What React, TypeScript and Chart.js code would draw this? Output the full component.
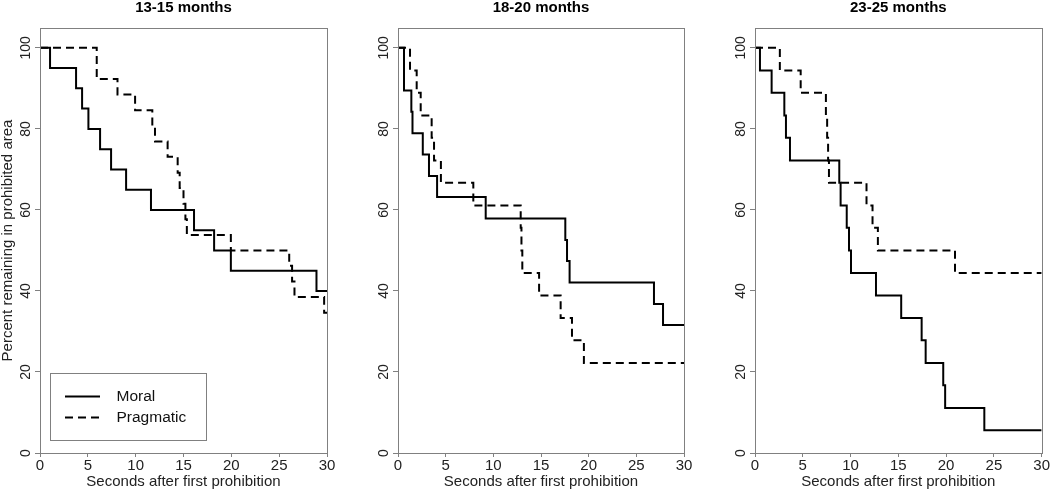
import React, { useEffect, useRef } from 'react';
import { Chart, registerables } from 'chart.js';

Chart.register(...registerables);

const FONT = '"Liberation Sans", Arial, Helvetica, sans-serif';

const panelTitles = ['13-15 months', '18-20 months', '23-25 months'];
const seriesNames = ['Moral', 'Pragmatic'];
const xTicks = [0, 5, 10, 15, 20, 25, 30];
const yTicks = [0, 20, 40, 60, 80, 100];
const xAxisTitle = 'Seconds after first prohibition';
const yAxisTitle = 'Percent remaining in prohibited area';

// 13-15 months
const moral1T = [0, 1.05, 3.77, 4.4, 5.06, 6.28, 7.43, 9.0, 11.6, 16.1, 18.2, 19.95, 28.9, 30];
const moral1V = [100, 95, 90, 85, 80, 75, 70, 65, 60, 55, 50, 45, 40, 40];
const prag1T = [0, 5.93, 8.1, 9.94, 11.74, 12.02, 13.34, 14.39, 14.6, 15.0, 15.2, 15.35, 19.95, 26.05, 26.35, 26.6, 29.7, 30];
const prag1V = [100, 92.3, 88.5, 84.6, 80.8, 76.9, 73.1, 69.2, 65.4, 61.5, 57.7, 53.8, 50, 46.2, 42.3, 38.5, 34.6, 34.6];

// 18-20 months
const moral2T = [0, 0.63, 1.4, 1.52, 2.6, 3.25, 4.1, 9.2, 17.55, 17.73, 18.0, 26.85, 27.8, 30];
const moral2V = [100, 89.5, 84.2, 78.9, 73.7, 68.4, 63.2, 57.9, 52.6, 47.4, 42.1, 36.8, 31.6, 31.6];
const prag2T = [0, 1.26, 1.96, 2.38, 3.53, 3.78, 4.5, 7.9, 12.87, 12.95, 13.04, 14.8, 17.06, 18.25, 19.5, 30];
const prag2V = [100, 94.4, 88.9, 83.3, 77.8, 72.2, 66.7, 61.1, 55.6, 50, 44.4, 38.9, 33.3, 27.8, 22.2, 22.2];

// 23-25 months
const moral3T = [0, 0.52, 1.74, 3.07, 3.24, 3.66, 8.82, 8.96, 9.6, 9.84, 10.05, 12.66, 15.3, 17.44, 17.86, 19.7, 19.9, 24.0, 30];
const moral3V = [100, 94.4, 88.9, 83.3, 77.8, 72.2, 66.7, 61.1, 55.6, 50, 44.4, 38.9, 33.3, 27.8, 22.2, 16.7, 11.1, 5.6, 5.6];
const prag3T = [0, 2.6, 4.78, 7.42, 7.55, 7.65, 7.74, 11.67, 12.3, 12.86, 20.93, 30];
const prag3V = [100, 94.4, 88.9, 83.3, 77.8, 72.2, 66.7, 61.1, 55.6, 50, 44.4, 44.4];

const panelData = [
  { moralT: moral1T, moralV: moral1V, pragT: prag1T, pragV: prag1V },
  { moralT: moral2T, moralV: moral2V, pragT: prag2T, pragV: prag2V },
  { moralT: moral3T, moralV: moral3V, pragT: prag3T, pragV: prag3V },
];

const W = 350;
const H = 491;
const layoutInfo = [
  { offset: 0, left: 40, right: 327, yTitle: true, legend: true },
  { offset: 350, left: 48, right: 334, yTitle: false, legend: false },
  { offset: 700, left: 55, right: 342, yTitle: false, legend: false },
];

function Panel({ idx }: { idx: number }) {
  const ref = useRef<HTMLCanvasElement>(null);
  useEffect(() => {
    const d = panelData[idx];
    const L = layoutInfo[idx];
    const title = panelTitles[idx];
    const toPts = (t: number[], v: number[]) => t.map((x, i) => ({ x, y: v[i] }));

    const custom = {
      id: 'customPanel' + idx,
      afterDraw(chart: any) {
        const { ctx, chartArea: a, scales } = chart;
        ctx.save();
        // box
        ctx.strokeStyle = '#808080';
        ctx.lineWidth = 1;
        ctx.setLineDash([]);
        ctx.strokeRect(Math.round(a.left) + 0.5, Math.round(a.top) + 0.5, Math.round(a.right - a.left), Math.round(a.bottom - a.top));
        // title
        ctx.fillStyle = '#000';
        ctx.font = `bold 15px ${FONT}`;
        ctx.textAlign = 'center';
        ctx.textBaseline = 'alphabetic';
        ctx.fillText(title, (a.left + a.right) / 2, 12);
        // y tick labels (rotated)
        ctx.font = `14px ${FONT}`;
        ctx.fillStyle = '#222';
        for (const v of yTicks) {
          const py = scales.y.getPixelForValue(v);
          ctx.save();
          ctx.translate(a.left - 10, py);
          ctx.rotate(-Math.PI / 2);
          ctx.textAlign = 'center';
          ctx.textBaseline = 'alphabetic';
          ctx.fillText(String(v), 0, 0);
          ctx.restore();
        }
        // y title
        if (L.yTitle) {
          ctx.save();
          ctx.font = `15px ${FONT}`;
          ctx.translate(8, (a.top + a.bottom) / 2);
          ctx.rotate(-Math.PI / 2);
          ctx.textAlign = 'center';
          ctx.textBaseline = 'middle';
          ctx.fillText(yAxisTitle, 0, 0);
          ctx.restore();
        }
        // legend
        if (L.legend) {
          const bx = a.left + 9.5;
          const by = a.bottom - 80;
          ctx.strokeStyle = '#808080';
          ctx.lineWidth = 1;
          ctx.strokeRect(Math.round(bx) + 0.5, Math.round(by) + 0.5, 156, 67);
          const ds = chart.data.datasets;
          const rows = [by + 23.5, by + 44.5];
          ds.forEach((s: any, i: number) => {
            ctx.strokeStyle = '#000';
            ctx.lineWidth = 2;
            ctx.setLineDash(s.borderDash || []);
            ctx.beginPath();
            ctx.moveTo(a.left + 25, rows[i]);
            ctx.lineTo(a.left + 60, rows[i]);
            ctx.stroke();
            ctx.setLineDash([]);
            ctx.fillStyle = '#111';
            ctx.font = `15.5px ${FONT}`;
            ctx.textAlign = 'left';
            ctx.textBaseline = 'middle';
            ctx.fillText(s.label, a.left + 76.5, rows[i] + 0.5);
          });
        }
        ctx.restore();
      },
    };

    const chart = new Chart(ref.current as HTMLCanvasElement, {
      type: 'line',
      data: {
        datasets: [
          {
            label: seriesNames[0],
            data: toPts(d.moralT, d.moralV),
            borderColor: '#000',
            borderWidth: 2,
            stepped: 'before',
            pointRadius: 0,
            fill: false,
          },
          {
            label: seriesNames[1],
            data: toPts(d.pragT, d.pragV),
            borderColor: '#000',
            borderWidth: 2,
            borderDash: [8, 5],
            stepped: 'before',
            pointRadius: 0,
            fill: false,
          },
        ],
      },
      options: {
        responsive: false,
        maintainAspectRatio: false,
        animation: false,
        events: [],
        layout: { padding: { top: 28, right: W - L.right, left: 0, bottom: 0 } },
        plugins: { legend: { display: false }, tooltip: { enabled: false }, title: { display: false } },
        scales: {
          x: {
            type: 'linear',
            min: 0,
            max: 30,
            afterBuildTicks: (s: any) => {
              s.ticks = xTicks.map((v) => ({ value: v }));
            },
            afterFit: (s: any) => {
              s.height = 38;
            },
            grid: { display: true, drawOnChartArea: false, drawTicks: true, tickLength: 4, color: '#808080' },
            border: { display: false },
            ticks: { font: { family: FONT, size: 15 }, color: '#222', padding: 0, maxRotation: 0, autoSkip: false },
            title: { display: true, text: xAxisTitle, font: { family: FONT, size: 15 }, color: '#222', padding: 0 },
          },
          y: {
            type: 'linear',
            min: 0,
            max: 104.9,
            afterBuildTicks: (s: any) => {
              s.ticks = yTicks.map((v) => ({ value: v }));
            },
            afterFit: (s: any) => {
              s.width = L.left;
            },
            grid: { display: true, drawOnChartArea: false, drawTicks: true, tickLength: 5, color: '#808080' },
            border: { display: false },
            ticks: { display: false },
          },
        },
      } as any,
      plugins: [custom],
    });
    return () => chart.destroy();
  }, [idx]);

  return (
    <canvas
      ref={ref}
      width={W}
      height={H}
      style={{ position: 'absolute', left: layoutInfo[idx].offset, top: 0, width: W, height: H }}
    />
  );
}

export default function App() {
  return (
    <div style={{ position: 'fixed', left: 0, top: 0, width: 1050, height: 491, background: '#fff', overflow: 'hidden' }}>
      <Panel idx={0} />
      <Panel idx={1} />
      <Panel idx={2} />
    </div>
  );
}
